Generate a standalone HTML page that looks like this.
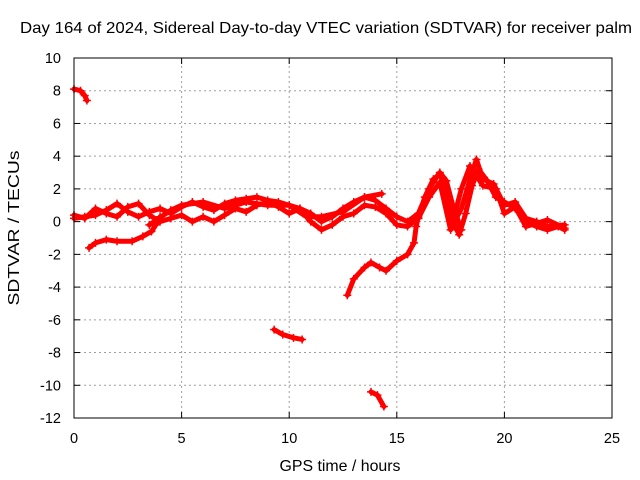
<!DOCTYPE html>
<html><head><meta charset="utf-8"><style>
body{margin:0;background:#fff}
svg{display:block;font-family:"Liberation Sans",sans-serif}
</style></head><body>
<svg id="c" width="640" height="480">
<rect width="640" height="480" fill="#fff"/>
<text x="326" y="33" text-anchor="middle" font-size="16" textLength="612" lengthAdjust="spacingAndGlyphs">Day 164 of 2024, Sidereal Day-to-day VTEC variation (SDTVAR) for receiver palm</text>
<text x="340" y="471" text-anchor="middle" font-size="16" textLength="121" lengthAdjust="spacingAndGlyphs">GPS time / hours</text>
<text transform="translate(19,228) rotate(-90)" text-anchor="middle" font-size="16" textLength="155" lengthAdjust="spacingAndGlyphs">SDTVAR / TECUs</text>
<g id="grid"></g><g id="ticks"></g><g id="marks"></g>
<rect x="74" y="58" width="538" height="360" fill="none" stroke="#000"/>
</svg>
<script>
const xTicks=[0,5,10,15,20,25];
const yTicks=[10,8,6,4,2,0,-2,-4,-6,-8,-10,-12];
const trackTopLeft=[[0,8.1],[0.3,8.0],[0.5,7.7],[0.6,7.4]];
const trackLowStart=[[0.7,-1.6],[1,-1.3],[1.5,-1.1],[2,-1.2],[2.7,-1.2],[3.2,-0.9],[3.6,-0.6],[3.8,-0.2],[4.0,0.3]];
const trackA=[[0,0.2],[0.5,0.3],[1,0.4],[1.5,0.7],[2,1.1],[2.5,0.6],[3,0.3],[3.5,0.6],[4,0.8],[4.5,0.5],[5,0.9],[5.5,1.2],[6,0.9],[6.5,0.7],[7,1.1],[7.5,1.3],[8,1.4],[8.5,1.5],[9,1.3],[9.5,1.2],[10,1.0],[10.5,0.8],[11,0.5],[11.5,0.0],[12,0.3],[12.5,0.8],[13,1.2],[13.5,1.5],[14,1.3],[14.5,0.8],[15,0.3],[15.5,0.0],[16,0.5],[16.5,2.0],[17,3.0],[17.3,2.5],[17.6,1.0],[18,-0.5]];
const trackB=[[0,0.4],[0.5,0.2],[1,0.8],[1.5,0.5],[2,0.3],[2.5,0.9],[3,1.1],[3.5,0.4],[4,0.0],[4.5,0.2],[5,0.4],[5.5,0.0],[6,0.3],[6.5,0.0],[7,0.4],[7.5,0.8],[8,0.6],[8.5,1.0],[9,1.2],[9.5,0.9],[10,0.5],[10.5,0.8],[11,0.0],[11.5,-0.5],[12,-0.2],[12.5,0.3],[13,0.5],[13.5,1.0],[14,0.9],[14.5,0.5],[15,-0.2],[15.5,-0.3],[16,0.2],[16.3,1.5],[16.7,2.6],[17,2.9],[17.3,2.0],[17.6,0.0],[17.9,-0.8],[18.2,0.5],[18.5,2.2],[18.8,3.2],[19.2,2.5],[19.6,1.5],[20,1.2],[20.5,0.8],[21,0.0],[21.5,-0.3],[22,-0.5],[22.5,-0.3],[22.8,-0.5]];
const trackC=[[3.5,-0.2],[4.5,0.7],[5,1.0],[6,1.2],[7,0.8],[8,1.2],[9,1.0],[10,1.0],[10.8,0.3],[11.5,0.3],[12.5,0.6],[13.5,1.5],[14.3,1.7]];
const trackD=[[16,0.2],[16.5,1.5],[17,2.4],[17.5,-0.5],[18,0.8],[18.5,3.0],[18.7,3.8],[19,2.6],[19.5,2.3],[20,1.0],[20.5,1.2],[21,0.2],[21.5,0.0],[22,-0.3],[22.8,-0.2]];
const trackE=[[17.7,0.5],[18,2.0],[18.4,3.4],[19,2.2],[19.6,2.0],[20,0.5],[20.5,0.9],[21,-0.3],[22,0.1],[22.8,-0.4]];
const trackMidLow=[[12.7,-4.5],[13,-3.5],[13.5,-2.8],[13.8,-2.5],[14.2,-2.8],[14.5,-3.0],[15,-2.4],[15.5,-2.0],[15.8,-1.3],[15.9,-0.3],[16,0.3]];
const trackMinus7=[[9.3,-6.6],[9.7,-6.9],[10.2,-7.1],[10.6,-7.2]];
const trackMinus11=[[13.8,-10.4],[14.1,-10.6],[14.4,-11.3]];
const tracks=[trackTopLeft,trackLowStart,trackA,trackB,trackC,trackD,trackE,trackMidLow,trackMinus7,trackMinus11];

const X0=74,X1=612,Y0=418,Y1=58;
const xs=v=>X0+(v-0)/(25-0)*(X1-X0);
const ys=v=>Y0-(v+12)/(22)*(Y0-Y1);
const NS="http://www.w3.org/2000/svg";
function mk(t,a,p){const e=document.createElementNS(NS,t);for(const k in a)e.setAttribute(k,a[k]);p.appendChild(e);return e;}
const grid=document.getElementById('grid'),ticks=document.getElementById('ticks'),marks=document.getElementById('marks');
xTicks.forEach(v=>{const x=xs(v);
 if(v>0&&v<25){const g=mk('line',{x1:x,x2:x,y1:Y0,y2:Y1,stroke:'#a0a0a0','stroke-dasharray':'2,3'},grid);
 
 }
 mk('line',{x1:x,x2:x,y1:Y0,y2:Y0-6,stroke:'#000'},ticks);mk('line',{x1:x,x2:x,y1:Y1,y2:Y1+6,stroke:'#000'},ticks);
 const t=mk('text',{x:x,y:Y0+25,'text-anchor':'middle','font-size':14.5},ticks);t.textContent=v;
 
 });
yTicks.forEach(v=>{const y=ys(v);
 if(v>-12&&v<10){const g=mk('line',{x1:X0,x2:X1,y1:y,y2:y,stroke:'#a0a0a0','stroke-dasharray':'2,3'},grid);
 
 }
 mk('line',{x1:X0,x2:X0+6,y1:y,y2:y,stroke:'#000'},ticks);mk('line',{x1:X1,x2:X1-6,y1:y,y2:y,stroke:'#000'},ticks);
 const t=mk('text',{x:X0-13,y:y+5,'text-anchor':'end','font-size':14.5},ticks);t.textContent=v;
 
 });
tracks.forEach(tr=>{
 const p=mk('polyline',{points:tr.map(d=>xs(d[0])+','+ys(d[1])).join(' '),fill:'none',stroke:'#f00','stroke-width':5,'stroke-linejoin':'round','stroke-linecap':'round'},marks);
 
 
 tr.forEach(d=>{const x=xs(d[0]),y=ys(d[1]);
  const m=mk('path',{d:`M${x-4},${y}H${x+4}M${x},${y-4}V${y+4}`,stroke:'#f00','stroke-width':1.5},marks);
  
  });
});
</script>
</body></html>
